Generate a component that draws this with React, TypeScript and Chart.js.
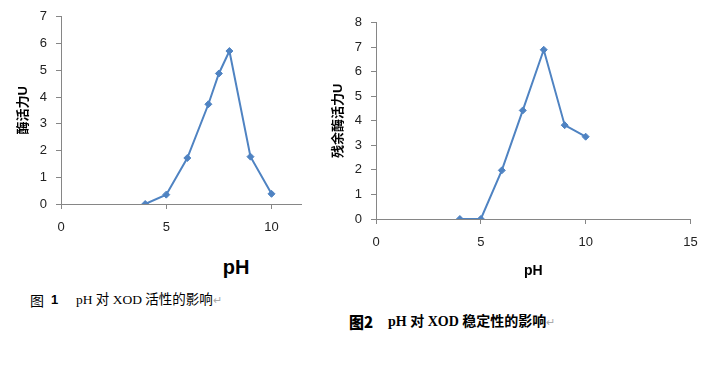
import React, { useEffect, useRef } from "react";
import { Chart, registerables } from "chart.js";

Chart.register(...registerables);

// ---- data ----
const ph1 = [4, 5, 6, 7, 7.5, 8, 9, 10];
const activity1 = [0, 0.35, 1.72, 3.73, 4.88, 5.72, 1.77, 0.38];
const ph2 = [4, 5, 6, 7, 8, 9, 10];
const activity2 = [0, 0, 1.98, 4.42, 6.89, 3.82, 3.35];

const xTicks1 = [0, 5, 10];
const yTicks1 = [0, 1, 2, 3, 4, 5, 6, 7];
const xTicks2 = [0, 5, 10, 15];
const yTicks2 = [0, 1, 2, 3, 4, 5, 6, 7, 8];

const yTitle1 = "酶活力U";
const yTitle2 = "残余酶活力U";
const xTitle = "pH";

const LINE = "#4F83C2";
const AXIS = "#868686";
const TICK_FONT = "'Liberation Sans', Arial, sans-serif";
const CJK_BOLD = "'Liberation Sans', 'Noto Sans CJK SC', sans-serif";

type ChartProps = {
  xs: number[];
  ys: number[];
  xTicks: number[];
  yTicks: number[];
  xMax: number;
  yTitle: string;
  xTitle?: string;
  width: number;
  height: number;
  padTop: number;
  padRight: number;
  yAxisWidth: number;
  xAxisHeight: number;
  yTitlePad: number;
};

function LineChart(p: ChartProps) {
  const ref = useRef<HTMLCanvasElement | null>(null);
  useEffect(() => {
    if (!ref.current) return;
    const chart = new Chart(ref.current, {
      type: "line",
      data: {
        datasets: [
          {
            data: p.xs.map((x, i) => ({ x, y: p.ys[i] })),
            borderColor: LINE,
            backgroundColor: LINE,
            borderWidth: 2,
            pointStyle: "rectRot",
            pointRadius: 3.5,
            pointBorderWidth: 1,
            pointBackgroundColor: LINE,
            pointBorderColor: LINE,
            tension: 0,
          },
        ],
      },
      options: {
        animation: false,
        responsive: false,
        layout: { padding: { left: 0, top: p.padTop, right: p.padRight, bottom: 0 } },
        plugins: { legend: { display: false }, tooltip: { enabled: false } },
        scales: {
          x: {
            type: "linear",
            min: 0,
            max: p.xMax,
            afterBuildTicks: (s: any) => {
              s.ticks = p.xTicks.map((v) => ({ value: v }));
            },
            afterFit: (s: any) => {
              s.height = p.xAxisHeight;
            },
            grid: { drawOnChartArea: false, drawTicks: true, tickLength: 5, color: AXIS },
            border: { display: true, color: AXIS, width: 1 },
            ticks: {
              font: { family: TICK_FONT, size: 13 },
              color: "#222",
              padding: 11,
              maxRotation: 0,
              autoSkip: false,
            },
            title: p.xTitle
              ? {
                  display: true,
                  text: p.xTitle,
                  color: "#000",
                  font: { family: TICK_FONT, size: 14, weight: "bold" },
                  padding: { top: 0, bottom: 0 },
                }
              : { display: false },
          },
          y: {
            type: "linear",
            min: 0,
            max: p.yTicks[p.yTicks.length - 1],
            afterBuildTicks: (s: any) => {
              s.ticks = p.yTicks.map((v) => ({ value: v }));
            },
            afterFit: (s: any) => {
              s.width = p.yAxisWidth;
            },
            grid: { drawOnChartArea: false, drawTicks: true, tickLength: 5, color: AXIS },
            border: { display: true, color: AXIS, width: 1 },
            ticks: {
              font: { family: TICK_FONT, size: 13 },
              color: "#222",
              padding: 9,
              autoSkip: false,
            },
            title: {
              display: true,
              text: p.yTitle,
              color: "#000",
              font: { family: CJK_BOLD, size: 13, weight: "bold" },
              padding: { top: p.yTitlePad, bottom: 0 },
            },
          },
        },
      },
    } as any);
    return () => chart.destroy();
  }, []);
  return (
    <canvas
      ref={ref}
      width={p.width}
      height={p.height}
      style={{ width: p.width, height: p.height, display: "block" }}
    />
  );
}

export default function App() {
  const serif = "'Liberation Serif', 'Times New Roman', 'Noto Sans CJK SC', serif";
  return (
    <div
      style={{
        position: "absolute",
        left: 0,
        top: 0,
        width: 715,
        height: 380,
        background: "#fff",
        overflow: "hidden",
      }}
    >
      <div style={{ position: "absolute", left: 0, top: 0 }}>
        <LineChart
          xs={ph1}
          ys={activity1}
          xTicks={xTicks1}
          yTicks={yTicks1}
          xMax={11.4}
          yTitle={yTitle1}
          width={320}
          height={250}
          padTop={14.5}
          padRight={19}
          yAxisWidth={61}
          xAxisHeight={46}
          yTitlePad={15.5}
        />
      </div>
      <div style={{ position: "absolute", left: 320, top: 0 }}>
        <LineChart
          xs={ph2}
          ys={activity2}
          xTicks={xTicks2}
          yTicks={yTicks2}
          xMax={15}
          yTitle={yTitle2}
          xTitle={xTitle}
          width={395}
          height={280}
          padTop={22.5}
          padRight={24.5}
          yAxisWidth={56}
          xAxisHeight={61}
          yTitlePad={10.5}
        />
      </div>
      {/* chart 1 x title, placed off-centre as in the original */}
      <div
        style={{
          position: "absolute",
          left: 236,
          top: 267,
          transform: "translate(-50%, -50%)",
          font: "bold 20px 'Liberation Sans', Arial, sans-serif",
          lineHeight: "20px",
          color: "#000",
          whiteSpace: "nowrap",
        }}
      >
        {xTitle}
      </div>
      {/* caption 1 */}
      <div
        style={{
          position: "absolute",
          left: 30,
          top: 292,
          height: 16,
          font: `13.5px ${serif}`,
          lineHeight: "16px",
          color: "#000",
          whiteSpace: "nowrap",
        }}
      >
        <span style={{ fontFamily: "'Noto Sans CJK SC', sans-serif", fontSize: 14 }}>图</span>
        <span style={{ position: "absolute", left: 21, top: 0, font: "bold 13px 'Liberation Sans', Arial, sans-serif", lineHeight: "16px" }}>1</span>
        <span style={{ position: "absolute", left: 46, top: 0 }}>
          pH 对 XOD 活性的影响<span style={{ color: "#aaa", fontSize: 11 }}>↵</span>
        </span>
      </div>
      {/* caption 2 */}
      <div
        style={{
          position: "absolute",
          left: 349,
          top: 314,
          height: 16,
          font: `bold 14px ${serif}`,
          lineHeight: "16px",
          color: "#000",
          whiteSpace: "nowrap",
        }}
      >
        <span style={{ fontFamily: "'Noto Sans CJK SC', sans-serif", fontWeight: 900, fontSize: 15 }}>图2</span>
        <span style={{ position: "absolute", left: 39, top: 0 }}>
          pH 对 XOD 稳定性的影响<span style={{ color: "#aaa", fontSize: 11, fontWeight: "normal" }}>↵</span>
        </span>
      </div>
    </div>
  );
}
